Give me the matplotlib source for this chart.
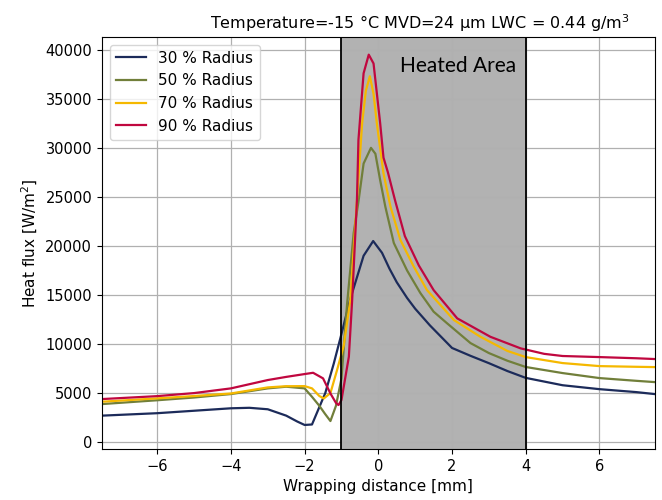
import numpy as np
import matplotlib
matplotlib.use("Agg")
import matplotlib.pyplot as plt

# data
x30 = [-7.5, -6, -5, -4, -3.5, -3, -2.5, -2.2, -2.0, -1.8, -1.44, -1.21, -1.03, -0.76,
       -0.4, -0.14, 0.1, 0.3, 0.5, 0.78, 1.0, 1.4, 2.0, 2.5, 3.0, 3.5, 4.0, 5.0, 6.0, 7.0, 7.5]
y30 = [2700, 2950, 3200, 3450, 3500, 3350, 2700, 2100, 1750, 1800, 5000, 8000, 10600, 14600,
       19000, 20500, 19300, 17700, 16300, 14700, 13600, 11900, 9600, 8800, 8050, 7250, 6550,
       5800, 5400, 5100, 4900]

x50 = [-7.5, -6, -5, -4, -3, -2.5, -2.0, -1.8, -1.6, -1.45, -1.3, -1.15, -1.0, -0.85, -0.67,
       -0.54, -0.4, -0.2, -0.08, 0.05, 0.19, 0.42, 0.78, 1.14, 1.5, 1.87, 2.5, 3.0, 3.5, 4.0,
       5.0, 6.0, 7.0, 7.5]
y50 = [3880, 4270, 4550, 4900, 5480, 5650, 5480, 4620, 3700, 2900, 2150, 3700, 6500, 14000,
       21300, 24500, 28400, 30000, 29400, 26700, 24000, 20300, 17500, 15200, 13300, 12100,
       10100, 9080, 8300, 7660, 7040, 6530, 6250, 6120]

x70 = [-7.5, -6, -5, -4, -3, -2.5, -2.0, -1.8, -1.6, -1.48, -1.3, -1.12, -1.0, -0.94, -0.76,
       -0.67, -0.58, -0.44, -0.34, -0.23, -0.13, -0.04, 0.14, 0.33, 0.6, 0.96, 1.32, 2.05,
       2.77, 3.5, 4.0, 5.0, 6.0, 7.0, 7.5]
y70 = [4120, 4460, 4700, 4960, 5580, 5700, 5710, 5480, 4700, 4450, 5000, 7350, 9000, 9800,
       14500, 19600, 24700, 32500, 35800, 37300, 35500, 32500, 27400, 24000, 20600, 17900,
       15500, 12450, 10740, 9300, 8670, 8060, 7750, 7680, 7650]

x90 = [-7.5, -6, -5, -4, -3, -2.5, -2.0, -1.77, -1.5, -1.3, -1.15, -1.08, -1.0, -0.8, -0.71,
       -0.58, -0.54, -0.4, -0.26, -0.13, 0.05, 0.14, 0.26, 0.45, 0.72, 1.1, 1.5, 2.14, 3.04,
       3.86, 4.5, 5.0, 6.0, 7.0, 7.5]
y90 = [4390, 4690, 5000, 5480, 6330, 6650, 6940, 7070, 6500, 4960, 4000, 3780, 4300, 8700,
       14500, 24700, 30800, 37600, 39500, 38600, 32500, 29000, 27500, 24700, 21000, 18000,
       15500, 12620, 10740, 9560, 9000, 8780, 8670, 8550, 8470]

labels = ['30 % Radius', '50 % Radius', '70 % Radius', '90 % Radius']
colors = ['#1c2b5a', '#717f3a', '#f5b800', '#c0073f']
heated = (-1, 4)

fig = plt.figure(figsize=(6.62, 5.0), dpi=100)
ax = fig.add_axes([0.154, 0.102, 0.835, 0.824])

ax.grid(True, color='#b0b0b0', lw=0.9)
ax.axvspan(heated[0], heated[1], color='k', alpha=0.3, lw=0, zorder=1)
ax.axvline(heated[0], color='k', lw=1.3, zorder=3)
ax.axvline(heated[1], color='k', lw=1.3, zorder=3)

for xs, ys, lab, c in zip([x30, x50, x70, x90], [y30, y50, y70, y90], labels, colors):
    ax.plot(xs, ys, color=c, lw=1.6, label=lab, zorder=2)

ax.text(2.15, 38300, 'Heated Area', family=['Lato', 'DejaVu Sans'], fontsize=15,
        ha='center', va='center', zorder=4)

ax.set_xlim(-7.5, 7.5)
ax.set_ylim(-700, 41300)
ax.set_xticks([-6, -4, -2, 0, 2, 4, 6])
ax.set_yticks(np.arange(0, 40001, 5000))
ax.tick_params(labelsize=10.5)
ax.set_xlabel('Wrapping distance [mm]', fontsize=11)
ax.set_ylabel('Heat flux [W/m$^2$]', fontsize=11)
ax.set_title('Temperature=-15 °C MVD=24 µm LWC = 0.44 g/m$^3$', fontsize=11.5, x=0.575)
ax.legend(loc='upper left', fontsize=11)

fig.savefig('out.png', dpi=100)
